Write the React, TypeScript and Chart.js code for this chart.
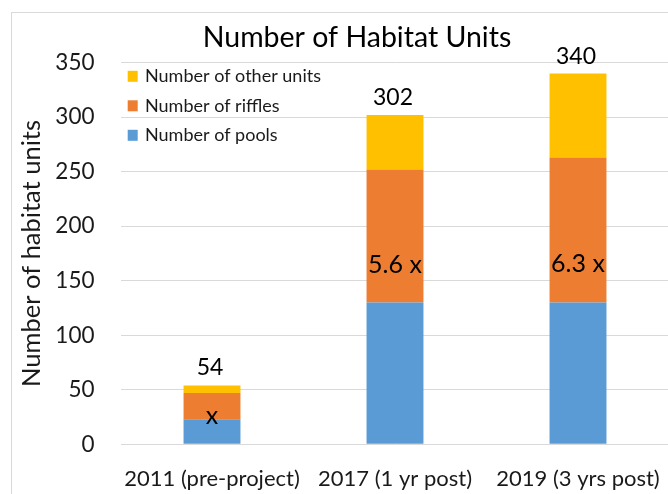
import React, { useEffect, useRef } from 'react';
import { Chart, registerables } from 'chart.js';

Chart.register(...registerables);

const categories = ['2011 (pre-project)', '2017 (1 yr post)', '2019 (3 yrs post)'];
const pools = [23, 130, 130];
const riffles = [24, 122, 133];
const otherUnits = [7, 50, 77];
const ratioLabels = ['x', '5.6 x', '6.3 x'];
const ratioLabelValues = [19, 157, 158];
const yMin = 0;
const yMax = 350;
const yStep = 50;

const FONT = 'Lato';
const TEXT = '#1a1a1a';

const framePlugin = {
  id: 'frame',
  beforeDraw(chart: any) {
    const { ctx } = chart;
    ctx.save();
    ctx.fillStyle = '#ffffff';
    ctx.fillRect(0, 0, chart.width, chart.height);
    ctx.strokeStyle = '#d9d9d9';
    ctx.lineWidth = 1;
    ctx.strokeRect(11.5, 12.5, chart.width + 40, chart.height + 40);
    ctx.restore();
  },
};

const titlePlugin = {
  id: 'chartTitle',
  afterDraw(chart: any) {
    const { ctx } = chart;
    ctx.save();
    ctx.fillStyle = '#000000';
    ctx.font = `28.5px ${FONT}`;
    ctx.textAlign = 'center';
    ctx.textBaseline = 'alphabetic';
    ctx.fillText('Number of Habitat Units', 357, 46.7);
    ctx.restore();
  },
};

const legendPlugin = {
  id: 'insideLegend',
  afterDatasetsDraw(chart: any) {
    const { ctx, chartArea } = chart;
    const items = chart.data.datasets
      .map((d: any) => ({ text: d.label, color: d.backgroundColor }))
      .reverse();
    ctx.save();
    ctx.font = `18px ${FONT}`;
    ctx.textAlign = 'left';
    ctx.textBaseline = 'middle';
    items.forEach((it: any, k: number) => {
      const cy = chartArea.top + 13.6 + k * 29.5;
      ctx.fillStyle = it.color;
      ctx.fillRect(chartArea.left + 7.2, cy - 5.5, 10, 11);
      ctx.fillStyle = TEXT;
      ctx.fillText(it.text, chartArea.left + 24.5, cy);
    });
    ctx.restore();
  },
};

const labelPlugin = {
  id: 'barLabels',
  afterDatasetsDraw(chart: any) {
    const { ctx } = chart;
    const topMeta = chart.getDatasetMeta(2);
    const yScale = chart.scales.y;
    ctx.save();
    ctx.fillStyle = '#000000';
    ctx.textAlign = 'center';
    ctx.textBaseline = 'alphabetic';
    topMeta.data.forEach((bar: any, i: number) => {
      const total = pools[i] + riffles[i] + otherUnits[i];
      ctx.font = `23px ${FONT}`;
      ctx.fillText(String(total), bar.x - 2, bar.y - 10);
      ctx.font = `25px ${FONT}`;
      ctx.fillText(ratioLabels[i], bar.x, yScale.getPixelForValue(ratioLabelValues[i]));
    });
    ctx.restore();
  },
};

export default function App() {
  const canvasRef = useRef<HTMLCanvasElement | null>(null);

  useEffect(() => {
    const canvas = canvasRef.current;
    if (!canvas) return;
    const chart = new Chart(canvas, {
      type: 'bar',
      data: {
        labels: categories,
        datasets: [
          { label: 'Number of pools', data: pools, backgroundColor: '#5B9BD5', borderWidth: 0 },
          { label: 'Number of riffles', data: riffles, backgroundColor: '#ED7D31', borderWidth: 0 },
          { label: 'Number of other units', data: otherUnits, backgroundColor: '#FFC000', borderWidth: 0 },
        ],
      },
      options: {
        responsive: false,
        animation: false,
        devicePixelRatio: 1,
        layout: { padding: { left: 12, top: 62.7, right: 2.5, bottom: 0 } },
        datasets: { bar: { categoryPercentage: 1, barPercentage: 0.311 } },
        plugins: {
          title: { display: false },
          tooltip: { enabled: false },
          legend: { display: false },
        },
        scales: {
          x: {
            stacked: true,
            grid: { display: true, drawOnChartArea: false, drawTicks: true, tickLength: 21, tickColor: 'rgba(0,0,0,0)' },
            border: { display: false },
            ticks: { color: TEXT, padding: 0, font: { family: FONT, size: 22 } },
            afterFit(scale: any) {
              scale.height = 49.7;
            },
          },
          y: {
            stacked: true,
            min: yMin,
            max: yMax,
            grid: { color: '#d9d9d9', lineWidth: 1, drawTicks: true, tickLength: 26, tickColor: 'rgba(0,0,0,0)' },
            border: { display: false },
            ticks: { stepSize: yStep, color: TEXT, padding: 0, font: { family: FONT, size: 22.5 } },
            title: {
              display: true,
              text: 'Number of habitat units',
              color: TEXT,
              font: { family: FONT, size: 25.5, lineHeight: 1.2 },
              padding: { top: 4.7, bottom: 0 },
            },
            afterFit(scale: any) {
              scale.width = 108.5;
            },
          },
        },
      },
      plugins: [framePlugin, titlePlugin, legendPlugin, labelPlugin],
    } as any);
    return () => chart.destroy();
  }, []);

  return (
    <div style={{ position: 'fixed', left: 0, top: 0, width: 668, height: 494, overflow: 'hidden', background: '#fff' }}>
      <canvas ref={canvasRef} width={672} height={494} style={{ width: 672, height: 494, display: 'block' }} />
    </div>
  );
}
